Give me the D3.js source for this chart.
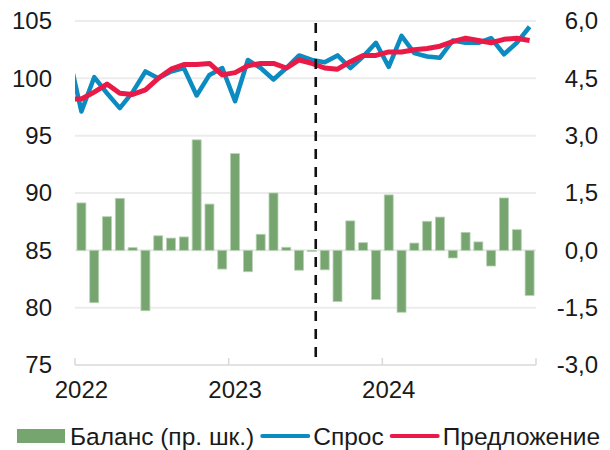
<!DOCTYPE html>
<html>
<head>
<meta charset="utf-8">
<script src="https://cdn.jsdelivr.net/npm/d3@7"></script>
<style>
  html, body { margin: 0; padding: 0; background: #fff; }
  svg text { font-family: "Liberation Sans", Arial, sans-serif; fill: #1a1a1a; }
</style>
</head>
<body>
<svg id="chart" width="610" height="450"></svg>
<script>
// Monthly observations, Jan 2022 – Dec 2024
const months = d3.range(36).map(i => new Date(2022, i, 1));

// Balance (right axis)
const balance = [1.24, -1.37, 0.88, 1.36, 0.07, -1.58, 0.38, 0.32, 0.35, 2.89, 1.21, -0.49,
                 2.53, -0.56, 0.42, 1.50, 0.08, -0.52, -0.03, -0.51, -1.34, 0.77, 0.20, -1.29,
                 1.45, -1.62, 0.19, 0.76, 0.87, -0.20, 0.47, 0.22, -0.41, 1.37, 0.54, -1.18];

// Demand and supply (left axis); the leading value is December 2021
const demand = [102.1, 97.1, 100.1, 98.7, 97.4, 98.8, 100.6, 100.0, 100.6, 100.9, 98.5, 100.3, 100.9,
                98.0, 101.6, 100.9, 99.9, 100.9, 102.0, 101.6, 101.4, 102.0, 100.9, 101.9, 103.1,
                101.0, 103.7, 102.2, 101.9, 101.8, 103.3, 103.1, 103.1, 103.5, 102.1, 103.1, 104.5];
const supply = [98.2, 98.2, 98.8, 99.5, 98.7, 98.6, 99.0, 100.0, 100.8, 101.2, 101.2, 101.3, 100.3,
                100.5, 101.1, 101.3, 101.3, 100.9, 101.6, 101.3, 100.9, 100.8, 101.45, 102.0, 102.0,
                102.3, 102.3, 102.5, 102.6, 102.8, 103.2, 103.5, 103.3, 103.1, 103.4, 103.5, 103.3];

const leftTicks = [75, 80, 85, 90, 95, 100, 105];
const rightTicks = [-3.0, -1.5, 0.0, 1.5, 3.0, 4.5, 6.0];
const yearLabels = ["2022", "2023", "2024"];
const forecastFrom = 18.8;   // month offset of the dashed divider

const legendItems = [
  { label: "Баланс (пр. шк.)", kind: "bar" },
  { label: "Спрос", kind: "line", color: "#0b8bc0" },
  { label: "Предложение", kind: "line", color: "#ea1a48" }
];

const W = 610, H = 450;
const plot = { left: 75, right: 536, top: 21, bottom: 365 };
const svg = d3.select("#chart");

const xMonth = d3.scaleLinear().domain([0, 36]).range([plot.left, plot.right]);
const xBand = d3.scaleBand().domain(d3.range(36)).range([plot.left, plot.right]).paddingInner(0.3).paddingOuter(0.15);
const yL = d3.scaleLinear().domain([75, 105]).range([plot.bottom, plot.top]);
const yR = d3.scaleLinear().domain([-3, 6]).range([plot.bottom, plot.top]);

// gridlines
svg.append("g").selectAll("line").data(leftTicks.filter(t => t !== 75)).join("line")
  .attr("x1", plot.left).attr("x2", plot.right)
  .attr("y1", d => yL(d)).attr("y2", d => yL(d))
  .attr("stroke", "#ececec").attr("stroke-width", 2);

// balance bars
svg.append("g").selectAll("rect").data(balance).join("rect")
  .attr("x", (d, i) => xBand(i))
  .attr("width", xBand.bandwidth())
  .attr("y", d => yR(Math.max(0, d)))
  .attr("height", d => Math.abs(yR(d) - yR(0)))
  .attr("fill", "#76a570")
  .attr("stroke", "#b7d1b3").attr("stroke-width", 0.8);

// bottom axis with inward ticks at year boundaries
const axisG = svg.append("g");
axisG.append("line").attr("x1", plot.left).attr("x2", plot.right)
  .attr("y1", plot.bottom).attr("y2", plot.bottom)
  .attr("stroke", "#d9d9d9").attr("stroke-width", 1.5);
axisG.selectAll("line.tick").data([0, 12, 24, 36]).join("line").attr("class", "tick")
  .attr("x1", d => xMonth(d)).attr("x2", d => xMonth(d))
  .attr("y1", plot.bottom).attr("y2", plot.bottom - 7)
  .attr("stroke", "#d9d9d9").attr("stroke-width", 1.5);

// lines, clipped to the plot area
svg.append("clipPath").attr("id", "plotClip").append("rect")
  .attr("x", plot.left).attr("y", 0).attr("width", plot.right - plot.left).attr("height", plot.bottom);

const lineGen = d3.line().x((d, i) => xMonth(i - 1 + 0.5)).y(d => yL(d)).curve(d3.curveLinear);
const lines = svg.append("g").attr("clip-path", "url(#plotClip)");
lines.append("path").datum(demand).attr("d", lineGen)
  .attr("fill", "none").attr("stroke", "#0b8bc0").attr("stroke-width", 4.5).attr("stroke-linejoin", "round");
lines.append("path").datum(supply).attr("d", lineGen)
  .attr("fill", "none").attr("stroke", "#ea1a48").attr("stroke-width", 5).attr("stroke-linejoin", "round");

// dashed divider
svg.append("line")
  .attr("x1", xMonth(forecastFrom)).attr("x2", xMonth(forecastFrom))
  .attr("y1", yL(105) + 2).attr("y2", plot.bottom - 1)
  .attr("stroke", "#111").attr("stroke-width", 2.6).attr("stroke-dasharray", "10,8");

// axis labels
const fs = 24;
svg.append("g").selectAll("text").data(leftTicks).join("text")
  .attr("x", 52).attr("y", d => yL(d)).attr("dy", "0.35em")
  .attr("text-anchor", "end").attr("font-size", fs).text(d => d);

const fmtR = d => d3.format(".1f")(d).replace(".", ",").replace("−", "-");
svg.append("g").selectAll("text").data(rightTicks).join("text")
  .attr("x", 598).attr("y", d => yR(d)).attr("dy", "0.35em")
  .attr("text-anchor", "end").attr("font-size", fs).text(fmtR);

svg.append("g").selectAll("text").data(yearLabels).join("text")
  .attr("x", (d, i) => xBand(i * 12) + xBand.bandwidth() / 2).attr("y", 398)
  .attr("text-anchor", "middle").attr("font-size", fs).text(d => d);

// legend
const lg = svg.append("g").attr("font-size", 24.5);
const ly = 436;
let cx = 17;
legendItems.forEach(item => {
  if (item.kind === "bar") {
    lg.append("rect").attr("x", cx).attr("y", ly - 7).attr("width", 48).attr("height", 14).attr("fill", "#76a570");
  } else {
    lg.append("line").attr("x1", cx + 2).attr("x2", cx + 48).attr("y1", ly).attr("y2", ly)
      .attr("stroke", item.color).attr("stroke-width", 4).attr("stroke-linecap", "round");
  }
  const t = lg.append("text").attr("x", cx + 53).attr("y", ly).attr("dy", "0.35em").text(item.label);
  cx += 53 + t.node().getComputedTextLength() + 6;
});
</script>
</body>
</html>
